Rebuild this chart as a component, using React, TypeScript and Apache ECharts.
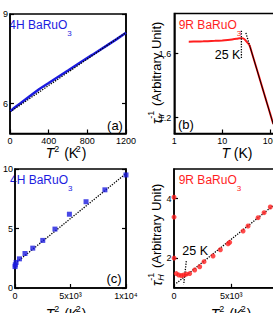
import React, { useEffect, useRef } from 'react';
import * as echarts from 'echarts';

const FONT = '"Liberation Sans", Arial, Helvetica, sans-serif';
const BLUE = '#1c1ce0';
const RED = '#ff1e1e';

// ---- Panel (a): 4H BaRuO3 vs T^2 ----
const aT2 = [5, 45, 112, 200, 304, 400, 500, 600, 742, 850, 1000, 1100, 1200];
const aRho = [5.75, 5.86, 6.02, 6.24, 6.49, 6.69, 6.9, 7.11, 7.41, 7.63, 7.94, 8.15, 8.37];
const aFitT2 = [0, 1200];
const aFitRho = [5.72, 8.38];
const aYTicks = [6, 9];

// ---- Panel (b): 9R BaRuO3, tau_tr^-1 vs T (log) ----
const bT = [2, 3, 4, 5, 7, 10, 13, 16, 20, 23, 25, 27, 30, 33, 37, 42, 50, 60, 70, 80, 90, 100, 115];
const bTau = [1.674, 1.675, 1.676, 1.677, 1.679, 1.682, 1.685, 1.688, 1.692, 1.695, 1.696, 1.694, 1.685, 1.67, 1.65, 1.597, 1.522, 1.443, 1.376, 1.318, 1.267, 1.221, 1.16];
const bFitSolidT = [38, 125];
const bFitSolidV = [1.64, 1.123];
const bFitDotT = [31, 38];
const bFitDotV = [1.729, 1.64];
const b25T = [25, 25];
const b25V = [1.572, 1.747];
const bYTicks = [1.2, 1.6];

// ---- Panel (c): 4H BaRuO3 vs T^2 ----
const cT2 = [4, 25, 100, 400, 900, 1600, 2500, 3600, 4900, 6400, 8100, 10000];
const cVal = [1.8, 1.95, 2.15, 2.45, 2.9, 3.35, 4.0, 4.95, 6.2, 7.25, 8.25, 9.5];
const cFitT2 = [0, 10000];
const cFitV = [2.05, 9.62];
const cXTicks = [0, 5000, 10000];
const cXLabels = ['0', '5x10³', '1x10⁴'];

// ---- Panel (d): 9R BaRuO3, tau_H^-1 vs T^2 ----
const dT2 = [1, 4, 9, 200, 410, 640, 850, 1075, 1368, 1805, 2242, 2620, 3406, 4047, 4716, 4861, 6026, 6463, 7336, 7860, 8400];
const dVal = [4.05, 3.38, 2.0, 1.48, 1.43, 1.41, 1.43, 1.46, 1.48, 1.6, 1.71, 1.88, 2.07, 2.28, 2.48, 2.53, 2.91, 3.08, 3.36, 3.53, 3.72];
const dFitT2 = [200, 9500];
const dFitV = [1.15, 4.03];
const d25T2 = [1074, 847];
const d25V = [1.9, 1.11];
const dYTicks = [2, 4];

const pairs = (xs: number[], ys: number[]) => xs.map((x, i) => [x, ys[i]]);

const SVGNS = 'http://www.w3.org/2000/svg';
let svgBox: SVGSVGElement | null = null;
let svgTxt: SVGTextElement | null = null;
function sw(text: string, fs: number, italic?: boolean): number {
  if (!svgBox) {
    svgBox = document.createElementNS(SVGNS, 'svg') as SVGSVGElement;
    svgBox.setAttribute('width', '600');
    svgBox.setAttribute('height', '60');
    svgBox.setAttribute('style', 'position:absolute;left:-2000px;top:0;visibility:hidden');
    svgTxt = document.createElementNS(SVGNS, 'text') as SVGTextElement;
    svgTxt.setAttribute('x', '0');
    svgTxt.setAttribute('y', '30');
    svgBox.appendChild(svgTxt);
    document.body.appendChild(svgBox);
  }
  svgTxt!.setAttribute('style', `font-size:${fs}px;font-family:${FONT};font-style:${italic ? 'italic' : 'normal'}`);
  svgTxt!.textContent = text;
  return svgTxt!.getComputedTextLength();
}

type Seg = { t: string; fs: number; italic?: boolean; dy?: number; adv?: number; color?: string };

function segWidth(segs: Seg[]) {
  let w = 0;
  for (const s of segs) w += s.adv !== undefined ? s.adv : sw(s.t, s.fs, s.italic);
  return w;
}
function row(segs: Seg[], x0: number, cy: number, color = '#000') {
  const out: any[] = [];
  let x = x0;
  for (const s of segs) {
    out.push({
      type: 'text', x, y: cy + (s.dy || 0), silent: true,
      style: {
        text: s.t, fontSize: s.fs, fontFamily: FONT, fontStyle: s.italic ? 'italic' : 'normal',
        fill: s.color || color, align: 'left', verticalAlign: 'middle',
      },
    });
    x += s.adv !== undefined ? s.adv : sw(s.t, s.fs, s.italic);
  }
  return out;
}
const crow = (segs: Seg[], cx: number, cy: number, color = '#000') => row(segs, cx - segWidth(segs) / 2, cy, color);

const sqTitle = (): Seg[] => [
  { t: 'T', fs: 14, italic: true },
  { t: '2', fs: 9, dy: -4.5, adv: sw('2', 9) + 1 },
  { t: ' (K', fs: 14, adv: sw(' (K', 14) + 1.6 },
  { t: '2', fs: 9, dy: -4.5, adv: sw('2', 9) + 0.8 },
  { t: ')', fs: 14 },
];
function yTitleSegs(sub: string): Seg[] {
  const wa = sw(sub, 9, true);
  const wb = sw('-1', 9);
  return [
    { t: 'τ', fs: 14, italic: true },
    { t: sub, fs: 9, italic: true, dy: 4, adv: 0 },
    { t: '-1', fs: 9, dy: -6, adv: Math.max(wa, wb) + 1 },
    { t: ' (Arbitrary Unit)', fs: 13 },
  ];
}
function compound(label: string, x: number, cy: number, color: string) {
  return row([{ t: label, fs: 12 }, { t: '3', fs: 8, dy: 8 }], x, cy, color);
}

const axisLineStyle = { show: true, lineStyle: { color: '#000', width: 1.5 } };
const tickStyle = { show: true, inside: true, length: 4, lineStyle: { color: '#000', width: 1.2 } };
const labelStyle = { color: '#000', fontSize: 9, fontFamily: FONT, lineHeight: 9 };
const sqLabel = (v: number) => { const i = cXTicks.indexOf(v); return i >= 0 ? cXLabels[i] : ''; };

export default function App() {
  const ref = useRef<HTMLDivElement>(null);
  useEffect(() => {
    if (!ref.current) return;
    const chart = echarts.init(ref.current, null, { renderer: 'svg' });
    const gridCommon = { show: true, borderColor: '#000', borderWidth: 1.5, backgroundColor: 'transparent', containLabel: false };
    const option: any = {
      animation: false,
      grid: [
        { ...gridCommon, left: 5.5, top: 14, width: 120.5, height: 119.5 },
        { ...gridCommon, left: 174.3, top: 13.5, width: 118.9, height: 120 },
        { ...gridCommon, left: 5.5, top: 169, width: 120.5, height: 119 },
        { ...gridCommon, left: 174, top: 169, width: 114.6, height: 118.8 },
      ],
      xAxis: [
        {
          gridIndex: 0, type: 'value', min: 0, max: 1200, interval: 400,
          axisLine: axisLineStyle, axisTick: tickStyle, splitLine: { show: false },
          axisLabel: { ...labelStyle, margin: 2.5, formatter: (v: number) => String(v) },
        },
        {
          gridIndex: 1, type: 'log', logBase: 10, min: 1, max: 300,
          axisLine: axisLineStyle, axisTick: tickStyle, splitLine: { show: false }, minorTick: { show: false },
          axisLabel: { ...labelStyle, margin: 2.5, formatter: (v: number) => String(Math.round(v)) },
        },
        {
          gridIndex: 2, type: 'value', min: 0, max: 10000, interval: 5000,
          axisLine: axisLineStyle, axisTick: tickStyle, splitLine: { show: false },
          axisLabel: { ...labelStyle, margin: 3.5, formatter: sqLabel },
        },
        {
          gridIndex: 3, type: 'value', min: 0, max: 10000, interval: 5000,
          axisLine: axisLineStyle, axisTick: tickStyle, splitLine: { show: false },
          axisLabel: { ...labelStyle, margin: 3.5, formatter: sqLabel },
        },
      ],
      yAxis: [
        {
          gridIndex: 0, type: 'value', min: 5, max: 9,
          axisLine: axisLineStyle, axisTick: { ...tickStyle, customValues: aYTicks }, splitLine: { show: false },
          axisLabel: { ...labelStyle, margin: 2, customValues: aYTicks },
        },
        {
          gridIndex: 1, type: 'value', min: 1.1, max: 1.85,
          axisLine: axisLineStyle, axisTick: { ...tickStyle, customValues: bYTicks }, splitLine: { show: false },
          axisLabel: { ...labelStyle, margin: 3, customValues: bYTicks },
        },
        {
          gridIndex: 2, type: 'value', min: 0, max: 10, interval: 5,
          axisLine: axisLineStyle, axisTick: tickStyle, splitLine: { show: false },
          axisLabel: { ...labelStyle, margin: 2 },
        },
        {
          gridIndex: 3, type: 'value', min: 1, max: 5,
          axisLine: axisLineStyle, axisTick: { ...tickStyle, customValues: dYTicks }, splitLine: { show: false },
          axisLabel: { ...labelStyle, margin: 2.5, customValues: dYTicks },
        },
        {
          gridIndex: 0, type: 'value', position: 'right', min: 5, max: 9,
          axisLine: axisLineStyle, axisTick: { ...tickStyle, customValues: aYTicks }, splitLine: { show: false },
          axisLabel: { show: false },
        },
        {
          gridIndex: 2, type: 'value', position: 'right', min: 0, max: 10, interval: 5,
          axisLine: axisLineStyle, axisTick: tickStyle, splitLine: { show: false },
          axisLabel: { show: false },
        },
      ],
      series: [
        { type: 'line', xAxisIndex: 0, yAxisIndex: 0, data: pairs(aT2, aRho), showSymbol: false, symbol: 'none', lineStyle: { color: BLUE, width: 2.5 }, z: 2 },
        { type: 'line', xAxisIndex: 0, yAxisIndex: 0, data: pairs(aFitT2, aFitRho), showSymbol: false, symbol: 'none', lineStyle: { color: '#000', width: 1.3, type: 'dotted' }, z: 3 },

        { type: 'line', xAxisIndex: 1, yAxisIndex: 1, data: pairs(bT, bTau), showSymbol: false, symbol: 'none', smooth: 0.3, lineStyle: { color: RED, width: 2 }, z: 2 },
        { type: 'line', xAxisIndex: 1, yAxisIndex: 1, data: pairs(bFitSolidT, bFitSolidV), showSymbol: false, symbol: 'none', lineStyle: { color: '#000', width: 1 }, z: 3 },
        { type: 'line', xAxisIndex: 1, yAxisIndex: 1, data: pairs(bFitDotT, bFitDotV), showSymbol: false, symbol: 'none', lineStyle: { color: '#000', width: 1.3, type: 'dotted' }, z: 3 },
        { type: 'line', xAxisIndex: 1, yAxisIndex: 1, data: pairs(b25T, b25V), showSymbol: false, symbol: 'none', lineStyle: { color: '#000', width: 1.3, type: 'dotted' }, z: 3 },

        { type: 'line', xAxisIndex: 2, yAxisIndex: 2, data: pairs(cFitT2, cFitV), showSymbol: false, symbol: 'none', lineStyle: { color: '#000', width: 1.3, type: 'dotted' }, z: 2 },
        { type: 'scatter', xAxisIndex: 2, yAxisIndex: 2, data: pairs(cT2, cVal), symbol: 'rect', symbolSize: 5, itemStyle: { color: BLUE }, z: 3 },

        { type: 'line', xAxisIndex: 3, yAxisIndex: 3, data: pairs(dFitT2, dFitV), showSymbol: false, symbol: 'none', lineStyle: { color: '#000', width: 1.3, type: 'dotted' }, z: 2 },
        { type: 'line', xAxisIndex: 3, yAxisIndex: 3, data: pairs(d25T2, d25V), showSymbol: false, symbol: 'none', lineStyle: { color: '#000', width: 1.3, type: 'dotted' }, z: 2 },
        { type: 'scatter', xAxisIndex: 3, yAxisIndex: 3, data: pairs(dT2, dVal), symbol: 'circle', symbolSize: 5, itemStyle: { color: RED }, z: 3 },
      ],
      graphic: [
        ...compound('4H BaRuO', 9.3, 25, BLUE),
        ...compound('4H BaRuO', 10, 180, BLUE),
        ...compound('9R BaRuO', 178.7, 25, RED),
        ...compound('9R BaRuO', 178.7, 180, RED),
        ...crow([{ t: '(a)', fs: 13 }], 115, 125),
        ...row([{ t: '(b)', fs: 13 }], 178, 124),
        ...crow([{ t: '(c)', fs: 13 }], 114, 278),
        ...row([{ t: '25 K', fs: 12.5 }], 214.7, 55),
        ...row([{ t: '25 K', fs: 12.5 }], 182.3, 250.7),
        ...crow(sqTitle(), 66, 153),
        ...crow([{ t: 'T', fs: 14, italic: true }, { t: ' (K)', fs: 14 }], 235, 153),
        ...crow(sqTitle(), 66, 313.5),
        ...crow(sqTitle(), 231, 313.5),
        { type: 'group', x: 156.5, y: 124, rotation: Math.PI / 2, children: row(yTitleSegs('tr'), 0, 0) },
        { type: 'group', x: 156.5, y: 286, rotation: Math.PI / 2, children: row(yTitleSegs('H'), 0, 0) },
      ],
    };
    chart.setOption(option);
    return () => chart.dispose();
  }, []);
  return (
    <div style={{ position: 'absolute', left: 0, top: 0, width: 273, height: 313, overflow: 'hidden' }}>
      <div ref={ref} style={{ width: 330, height: 313 }} />
    </div>
  );
}
